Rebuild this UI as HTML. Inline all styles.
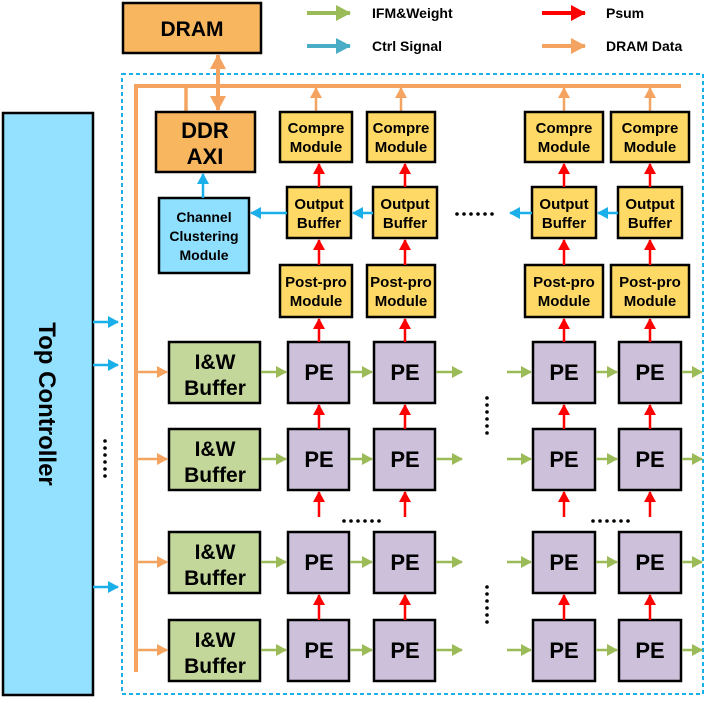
<!DOCTYPE html>
<html><head><style>body{margin:0;background:#fff}text{font-family:"Liberation Sans",Arial,sans-serif;font-weight:bold;fill:#000}</style></head><body>
<svg width="706" height="698" viewBox="0 0 706 698" xmlns="http://www.w3.org/2000/svg">
<defs>
<marker id="g" markerWidth="11" markerHeight="12" refX="10" refY="6" orient="auto" markerUnits="userSpaceOnUse"><path d="M0,0L11,6L0,12z" fill="#9BBB59"/></marker>
<marker id="b" markerWidth="11" markerHeight="12" refX="10" refY="6" orient="auto" markerUnits="userSpaceOnUse"><path d="M0,0L11,6L0,12z" fill="#1AAFE8"/></marker>
<marker id="r" markerWidth="11" markerHeight="12" refX="10" refY="6" orient="auto" markerUnits="userSpaceOnUse"><path d="M0,0L11,6L0,12z" fill="#F00"/></marker>
<marker id="o" markerWidth="11" markerHeight="12" refX="10" refY="6" orient="auto" markerUnits="userSpaceOnUse"><path d="M0,0L11,6L0,12z" fill="#F4A460"/></marker>
<marker id="ob" markerWidth="15" markerHeight="16" refX="14" refY="8" orient="auto" markerUnits="userSpaceOnUse"><path d="M0,0L15,8L0,16z" fill="#F4A460"/></marker>
<marker id="obs" markerWidth="15" markerHeight="16" refX="1" refY="8" orient="auto" markerUnits="userSpaceOnUse"><path d="M15,0L0,8L15,16z" fill="#F4A460"/></marker>
<marker id="gb" markerWidth="15" markerHeight="16" refX="14" refY="8" orient="auto" markerUnits="userSpaceOnUse"><path d="M0,0L15,8L0,16z" fill="#9BBB59"/></marker>
<marker id="bb" markerWidth="15" markerHeight="16" refX="14" refY="8" orient="auto" markerUnits="userSpaceOnUse"><path d="M0,0L15,8L0,16z" fill="#4BACC6"/></marker>
<marker id="rb" markerWidth="15" markerHeight="16" refX="14" refY="8" orient="auto" markerUnits="userSpaceOnUse"><path d="M0,0L15,8L0,16z" fill="#F00"/></marker>
</defs>
<!-- legend -->
<line x1="307" y1="13" x2="350" y2="13" stroke="#9BBB59" stroke-width="4" marker-end="url(#gb)"/>
<line x1="307" y1="46" x2="350" y2="46" stroke="#4BACC6" stroke-width="4" marker-end="url(#bb)"/>
<line x1="542" y1="13" x2="585" y2="13" stroke="#F00" stroke-width="4" marker-end="url(#rb)"/>
<line x1="542" y1="46" x2="585" y2="46" stroke="#F4A460" stroke-width="4" marker-end="url(#ob)"/>
<text x="372" y="18" font-size="14">IFM&amp;Weight</text>
<text x="372" y="51" font-size="14">Ctrl Signal</text>
<text x="606" y="18" font-size="14">Psum</text>
<text x="606" y="51" font-size="14">DRAM Data</text>
<rect x="122" y="74" width="581" height="620" fill="none" stroke="#1AAFE8" stroke-width="2" stroke-dasharray="4,3"/>
<rect x="3" y="113" width="90" height="582" fill="#93E0FF" stroke="#000" stroke-width="2.5"/>
<text transform="translate(39,404) rotate(90)" font-size="24" text-anchor="middle">Top Controller</text>
<g stroke="#1AAFE8" stroke-width="2.5" marker-end="url(#b)">
<line x1="93" y1="322" x2="118" y2="322"/><line x1="93" y1="365" x2="118" y2="365"/><line x1="93" y1="587" x2="118" y2="587"/>
</g>
<g fill="#000">
<circle cx="105" cy="441" r="1.8"/><circle cx="105" cy="448" r="1.8"/><circle cx="105" cy="455" r="1.8"/><circle cx="105" cy="462" r="1.8"/><circle cx="105" cy="469" r="1.8"/><circle cx="105" cy="476" r="1.8"/>
<circle cx="487" cy="398" r="1.8"/><circle cx="487" cy="405" r="1.8"/><circle cx="487" cy="412" r="1.8"/><circle cx="487" cy="419" r="1.8"/><circle cx="487" cy="426" r="1.8"/><circle cx="487" cy="433" r="1.8"/>
<circle cx="487" cy="587" r="1.8"/><circle cx="487" cy="594" r="1.8"/><circle cx="487" cy="601" r="1.8"/><circle cx="487" cy="608" r="1.8"/><circle cx="487" cy="615" r="1.8"/><circle cx="487" cy="622" r="1.8"/>
<circle cx="344" cy="521" r="1.8"/><circle cx="351" cy="521" r="1.8"/><circle cx="358" cy="521" r="1.8"/><circle cx="365" cy="521" r="1.8"/><circle cx="372" cy="521" r="1.8"/><circle cx="379" cy="521" r="1.8"/>
<circle cx="593" cy="521" r="1.8"/><circle cx="600" cy="521" r="1.8"/><circle cx="607" cy="521" r="1.8"/><circle cx="614" cy="521" r="1.8"/><circle cx="621" cy="521" r="1.8"/><circle cx="628" cy="521" r="1.8"/>
<circle cx="457" cy="214" r="1.8"/><circle cx="464" cy="214" r="1.8"/><circle cx="471" cy="214" r="1.8"/><circle cx="478" cy="214" r="1.8"/><circle cx="485" cy="214" r="1.8"/><circle cx="492" cy="214" r="1.8"/>
</g>
<rect x="123" y="3" width="138" height="50" fill="#F8B65E" stroke="#000" stroke-width="2.5"/>
<text x="192" y="36" font-size="21" text-anchor="middle">DRAM</text>
<line x1="218" y1="55" x2="218" y2="110" stroke="#F4A460" stroke-width="4" marker-end="url(#ob)" marker-start="url(#obs)"/>
<polyline points="136,672 136,86 681,86" fill="none" stroke="#F4A460" stroke-width="4"/>
<line x1="186" y1="86" x2="186" y2="112" stroke="#F4A460" stroke-width="3.5"/>
<rect x="156" y="112" width="99" height="60" fill="#F8B65E" stroke="#000" stroke-width="2.5"/>
<text x="205" y="138" font-size="22" text-anchor="middle">DDR</text>
<text x="205" y="164" font-size="22" text-anchor="middle">AXI</text>
<rect x="159" y="198" width="90" height="75" fill="#8FDFFF" stroke="#000" stroke-width="2.5"/>
<text x="204" y="222" font-size="14" text-anchor="middle">Channel</text>
<text x="204" y="241" font-size="14" text-anchor="middle">Clustering</text>
<text x="204" y="260" font-size="14" text-anchor="middle">Module</text>
<line x1="203" y1="198" x2="203" y2="174" stroke="#1AAFE8" stroke-width="2.5" marker-end="url(#b)"/>
<g stroke="#F4A460" stroke-width="2.5" marker-end="url(#o)">
<line x1="316" y1="112" x2="316" y2="88"/><line x1="401" y1="112" x2="401" y2="88"/><line x1="564" y1="112" x2="564" y2="88"/><line x1="650" y1="112" x2="650" y2="88"/>
</g>
<g fill="#FFD966" stroke="#000" stroke-width="2.5">
<rect x="280" y="112" width="72" height="50"/><rect x="367" y="112" width="68" height="50"/><rect x="525" y="112" width="78" height="50"/><rect x="611" y="112" width="78" height="50"/>
<rect x="287" y="187" width="64" height="51"/><rect x="373" y="187" width="64" height="51"/><rect x="532" y="187" width="64" height="51"/><rect x="618" y="187" width="64" height="51"/>
<rect x="280" y="265" width="72" height="52"/><rect x="367" y="265" width="68" height="52"/><rect x="525" y="265" width="78" height="52"/><rect x="611" y="265" width="78" height="52"/>
</g>
<g font-size="15" text-anchor="middle">
<text x="316" y="133">Compre</text><text x="316" y="152">Module</text>
<text x="401" y="133">Compre</text><text x="401" y="152">Module</text>
<text x="564" y="133">Compre</text><text x="564" y="152">Module</text>
<text x="650" y="133">Compre</text><text x="650" y="152">Module</text>
<text x="319" y="209">Output</text><text x="319" y="228">Buffer</text>
<text x="405" y="209">Output</text><text x="405" y="228">Buffer</text>
<text x="564" y="209">Output</text><text x="564" y="228">Buffer</text>
<text x="650" y="209">Output</text><text x="650" y="228">Buffer</text>
<text x="316" y="287">Post-pro</text><text x="316" y="306">Module</text>
<text x="401" y="287">Post-pro</text><text x="401" y="306">Module</text>
<text x="564" y="287">Post-pro</text><text x="564" y="306">Module</text>
<text x="650" y="287">Post-pro</text><text x="650" y="306">Module</text>
</g>
<g stroke="#1AAFE8" stroke-width="2.5" marker-end="url(#b)">
<line x1="287" y1="213" x2="251" y2="213"/><line x1="373" y1="213" x2="353" y2="213"/><line x1="532" y1="213" x2="510" y2="213"/><line x1="618" y1="213" x2="598" y2="213"/>
</g>
<g fill="#C4D79B" stroke="#000" stroke-width="2.5">
<rect x="169" y="342" width="91" height="61"/><rect x="169" y="429" width="91" height="61"/><rect x="169" y="532" width="91" height="61"/><rect x="169" y="620" width="91" height="61"/>
</g>
<g fill="#CCC0DA" stroke="#000" stroke-width="2.5">
<rect x="288" y="342" width="61" height="61"/><rect x="374" y="342" width="61" height="61"/><rect x="533" y="342" width="62" height="61"/><rect x="619" y="342" width="62" height="61"/>
<rect x="288" y="429" width="61" height="61"/><rect x="374" y="429" width="61" height="61"/><rect x="533" y="429" width="62" height="61"/><rect x="619" y="429" width="62" height="61"/>
<rect x="288" y="532" width="61" height="61"/><rect x="374" y="532" width="61" height="61"/><rect x="533" y="532" width="62" height="61"/><rect x="619" y="532" width="62" height="61"/>
<rect x="288" y="620" width="61" height="61"/><rect x="374" y="620" width="61" height="61"/><rect x="533" y="620" width="62" height="61"/><rect x="619" y="620" width="62" height="61"/>
</g>
<g font-size="21" text-anchor="middle">
<text x="215" y="369">I&amp;W</text><text x="215" y="395">Buffer</text>
<text x="215" y="456">I&amp;W</text><text x="215" y="482">Buffer</text>
<text x="215" y="559">I&amp;W</text><text x="215" y="585">Buffer</text>
<text x="215" y="647">I&amp;W</text><text x="215" y="673">Buffer</text>
</g>
<g font-size="22" text-anchor="middle">
<text x="319" y="380">PE</text><text x="405" y="380">PE</text><text x="564" y="380">PE</text><text x="650" y="380">PE</text>
<text x="319" y="467">PE</text><text x="405" y="467">PE</text><text x="564" y="467">PE</text><text x="650" y="467">PE</text>
<text x="319" y="570">PE</text><text x="405" y="570">PE</text><text x="564" y="570">PE</text><text x="650" y="570">PE</text>
<text x="319" y="658">PE</text><text x="405" y="658">PE</text><text x="564" y="658">PE</text><text x="650" y="658">PE</text>
</g>
<g stroke="#F4A460" stroke-width="2.5" marker-end="url(#o)">
<line x1="136" y1="372" x2="167" y2="372"/><line x1="136" y1="459" x2="167" y2="459"/><line x1="136" y1="562" x2="167" y2="562"/><line x1="136" y1="650" x2="167" y2="650"/>
</g>
<g stroke="#9BBB59" stroke-width="2.5" marker-end="url(#g)">
<line x1="261" y1="372" x2="286" y2="372"/><line x1="350" y1="372" x2="372" y2="372"/><line x1="436" y1="372" x2="462" y2="372"/><line x1="507" y1="372" x2="531" y2="372"/><line x1="596" y1="372" x2="617" y2="372"/><line x1="682" y1="372" x2="702" y2="372"/>
<line x1="261" y1="459" x2="286" y2="459"/><line x1="350" y1="459" x2="372" y2="459"/><line x1="436" y1="459" x2="462" y2="459"/><line x1="507" y1="459" x2="531" y2="459"/><line x1="596" y1="459" x2="617" y2="459"/><line x1="682" y1="459" x2="702" y2="459"/>
<line x1="261" y1="562" x2="286" y2="562"/><line x1="350" y1="562" x2="372" y2="562"/><line x1="436" y1="562" x2="462" y2="562"/><line x1="507" y1="562" x2="531" y2="562"/><line x1="596" y1="562" x2="617" y2="562"/><line x1="682" y1="562" x2="702" y2="562"/>
<line x1="261" y1="650" x2="286" y2="650"/><line x1="350" y1="650" x2="372" y2="650"/><line x1="436" y1="650" x2="462" y2="650"/><line x1="507" y1="650" x2="531" y2="650"/><line x1="596" y1="650" x2="617" y2="650"/><line x1="682" y1="650" x2="702" y2="650"/>
</g>
<g stroke="#F00" stroke-width="2.5" marker-end="url(#r)">
<line x1="319" y1="187" x2="319" y2="164"/><line x1="405" y1="187" x2="405" y2="164"/><line x1="564" y1="187" x2="564" y2="164"/><line x1="650" y1="187" x2="650" y2="164"/>
<line x1="319" y1="265" x2="319" y2="240"/><line x1="405" y1="265" x2="405" y2="240"/><line x1="564" y1="265" x2="564" y2="240"/><line x1="650" y1="265" x2="650" y2="240"/>
<line x1="319" y1="342" x2="319" y2="319"/><line x1="405" y1="342" x2="405" y2="319"/><line x1="564" y1="342" x2="564" y2="319"/><line x1="650" y1="342" x2="650" y2="319"/>
<line x1="319" y1="429" x2="319" y2="405"/><line x1="405" y1="429" x2="405" y2="405"/><line x1="564" y1="429" x2="564" y2="405"/><line x1="650" y1="429" x2="650" y2="405"/>
<line x1="319" y1="517" x2="319" y2="492"/><line x1="405" y1="517" x2="405" y2="492"/><line x1="564" y1="517" x2="564" y2="492"/><line x1="650" y1="517" x2="650" y2="492"/>
<line x1="319" y1="620" x2="319" y2="595"/><line x1="405" y1="620" x2="405" y2="595"/><line x1="564" y1="620" x2="564" y2="595"/><line x1="650" y1="620" x2="650" y2="595"/>
</g>
</svg>
</body></html>
